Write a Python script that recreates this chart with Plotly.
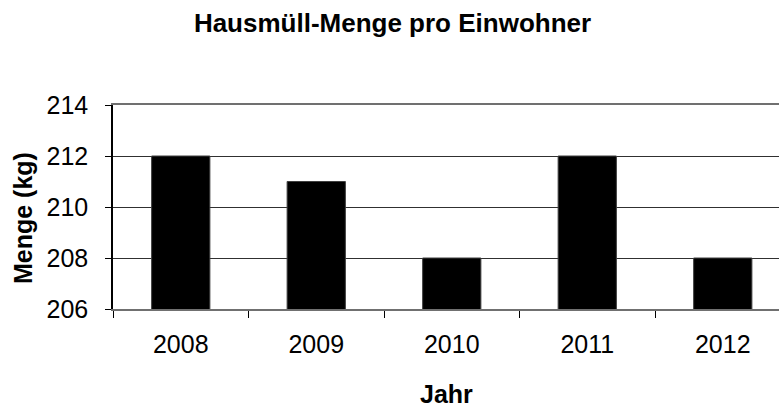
import plotly.graph_objects as go

jahre = ["2008", "2009", "2010", "2011", "2012"]
menge = [212, 211, 208, 212, 208]
y_ticks = [206, 208, 210, 212, 214]

fig = go.Figure()
fig.add_trace(go.Bar(
    x=jahre,
    y=menge,
    width=0.43,
    marker=dict(color="black", line=dict(color="#404040", width=1)),
))

fig.update_layout(
    width=779, height=407,
    margin=dict(l=113, r=0, t=105, b=98, autoexpand=False),
    paper_bgcolor="white", plot_bgcolor="white",
    font=dict(family="Liberation Sans, Arial, sans-serif", color="black", size=25),
    showlegend=False,
    title=dict(text="<b>Hausmüll-Menge pro Einwohner</b>", x=392.5 / 779, xanchor="center",
               y=1 - 23 / 407, yanchor="middle", font=dict(size=26)),
)

# the plot area runs past the right edge of the picture, so the last category is cut
fig.update_xaxes(
    type="category", range=[-0.5, 4.415], automargin=False,
    showline=True, linecolor="#707070", linewidth=2, mirror=True,
    ticks="outside", tickson="boundaries", ticklen=7, tickcolor="black",
    showgrid=False, ticklabelstandoff=12,
)
fig.update_yaxes(
    range=[206, 214], tickvals=y_ticks, automargin=False,
    showline=True, linecolor="black", linewidth=1.5,
    ticks="outside", ticklen=6, tickcolor="black", ticklabelstandoff=12,
    showgrid=True, gridcolor="#303030", gridwidth=1,
    zeroline=False,
)

# axis titles as annotations, placed like the original (the y title sits a bit low)
fig.add_annotation(text="<b>Jahr</b>", xref="paper", yref="paper",
                   x=0.5015, y=-0.419, xanchor="center", yanchor="middle",
                   showarrow=False, font=dict(size=25))
fig.add_annotation(text="<b>Menge (kg)</b>", xref="paper", yref="paper",
                   x=-0.1351, y=0.446, xanchor="center", yanchor="middle",
                   textangle=-90, showarrow=False, font=dict(size=25))

# drop the browser's default 8px body margin so the figure sits at the window corner
fig.write_html("out.html", config={"displayModeBar": False},
               post_script="document.body.style.margin='0px';")
